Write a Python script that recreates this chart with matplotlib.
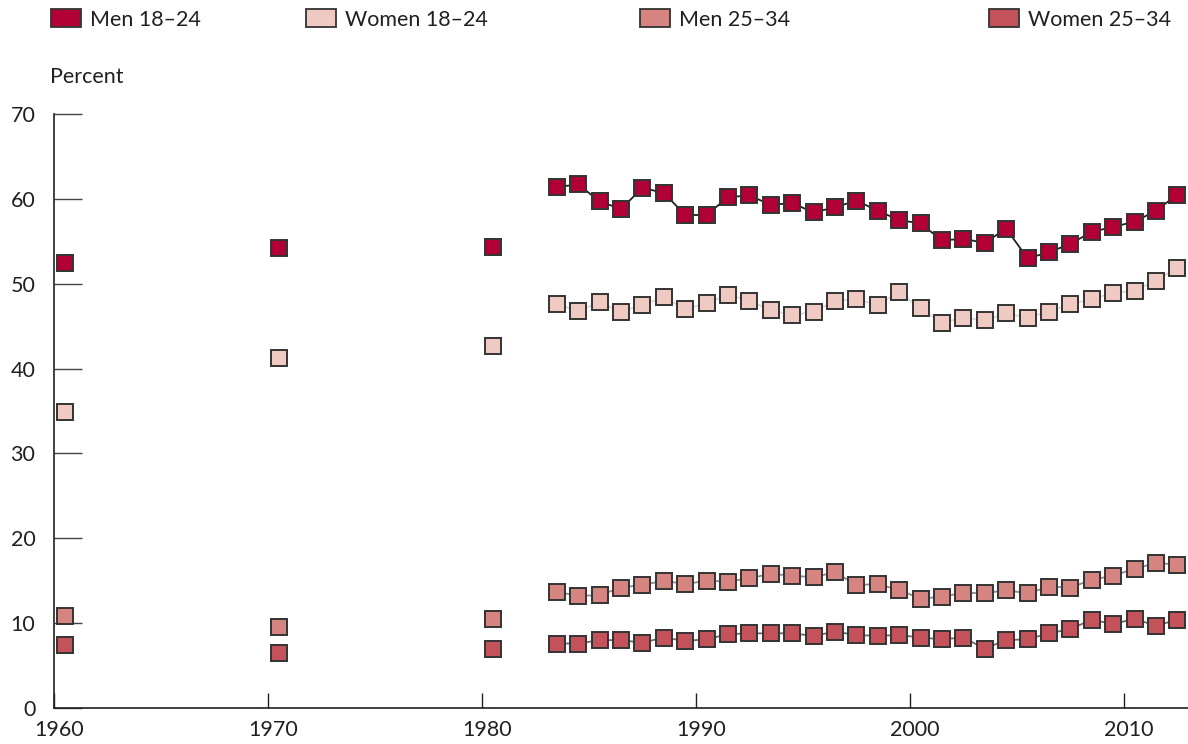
import matplotlib
matplotlib.use("Agg")
import matplotlib.pyplot as plt
from matplotlib.patches import Patch
from matplotlib.transforms import ScaledTranslation
import numpy as np

plt.rcParams['font.family'] = ['Lato', 'DejaVu Sans']
plt.rcParams['text.color'] = '#231f20'

# census years, then the annual series
years = [1960, 1970, 1980] + list(range(1983, 2013))

men_18_24 = [52.4, 54.2, 54.3,
             61.4, 61.7, 59.7, 58.8, 61.3, 60.7, 58.1, 58.1, 60.2, 60.4,
             59.3, 59.5, 58.4, 59.0, 59.8, 58.6, 57.5, 57.1, 55.1, 55.3,
             54.8, 56.5, 53.0, 53.7, 54.7, 56.1, 56.7, 57.3, 58.6, 60.5]
women_18_24 = [34.9, 41.3, 42.7,
               47.6, 46.8, 47.8, 46.7, 47.5, 48.4, 47.0, 47.7, 48.7, 48.0,
               46.9, 46.3, 46.7, 48.0, 48.2, 47.5, 49.0, 47.1, 45.4, 46.0,
               45.7, 46.5, 46.0, 46.7, 47.6, 48.2, 48.9, 49.2, 50.3, 51.9]
men_25_34 = [10.9, 9.5, 10.5,
             13.7, 13.2, 13.3, 14.2, 14.5, 15.0, 14.6, 15.0, 14.9, 15.3,
             15.8, 15.6, 15.4, 16.0, 14.5, 14.6, 13.9, 12.9, 13.1, 13.6,
             13.5, 13.9, 13.5, 14.3, 14.2, 15.1, 15.6, 16.4, 17.1, 16.9]
women_25_34 = [7.4, 6.5, 7.0,
               7.6, 7.6, 8.0, 8.0, 7.7, 8.3, 7.9, 8.1, 8.7, 8.8,
               8.8, 8.8, 8.5, 9.0, 8.6, 8.5, 8.6, 8.3, 8.1, 8.3,
               7.0, 8.0, 8.1, 8.8, 9.3, 10.4, 9.9, 10.5, 9.7, 10.4]

labels = ['Men 18\u201324', 'Women 18\u201324', 'Men 25\u201334', 'Women 25\u201334']
colors = ['#b00035', '#eecac2', '#d68480', '#c4525a']
line_colors = ['#231f20', '#d9d9d9', '#8a8a8a', '#6a6a6a']

fig = plt.figure(figsize=(11.88, 7.44), dpi=100)
ax = fig.add_axes([54 / 1188, 36 / 744, 1 - 54 / 1188, 594 / 744])

x = np.array(years) + 0.5  # mid-year position
series = [men_18_24, women_18_24, men_25_34, women_25_34]
for vals, c, lc in zip(series, colors, line_colors):
    v = np.array(vals)
    # connected annual series
    ax.plot(x[3:], v[3:], color=lc, lw=1.3, zorder=2)
    ax.plot(x, v, ls='none', marker='s', ms=11, mfc=c, mec='#333333',
            mew=1.4, zorder=3)

ax.set_xlim(1960, 2013)
ax.set_ylim(0, 70)
ax.set_xticks([1960, 1970, 1980, 1990, 2000, 2010])
ax.set_yticks(range(0, 71, 10))
for s in ['top', 'right']:
    ax.spines[s].set_visible(False)
for s in ['left', 'bottom']:
    ax.spines[s].set_color('#231f20')
    ax.spines[s].set_linewidth(1.2)
ax.tick_params(axis='y', direction='in', length=20, width=1.0,
               color='#444444', pad=13.5, labelsize=15.5,
               labelcolor='#231f20')
ax.tick_params(axis='x', direction='in', length=11, width=1.0,
               color='#231f20', pad=9, labelsize=15.5,
               labelcolor='#231f20')
for lab in ax.get_xticklabels():
    lab.set_transform(lab.get_transform() +
                      ScaledTranslation(5 / 100, 0, fig.dpi_scale_trans))

fig.text(50 / 1188, 1 - 83 / 744, 'Percent', fontsize=15.5, va='baseline')

# legend entries sit at uneven positions across the top
leg_x = [51, 306, 640, 989]
for lab, c, lx in zip(labels, colors, leg_x):
    h = Patch(facecolor=c, edgecolor='#333333', linewidth=1.3, label=lab)
    fig.legend(handles=[h], loc='center left',
               bbox_to_anchor=(lx / 1188, 1 - 19.5 / 744), frameon=False,
               borderpad=0, borderaxespad=0, handlelength=1.4,
               handleheight=0.85, handletextpad=0.4, fontsize=15.5)

fig.savefig('out.png', dpi=100)
